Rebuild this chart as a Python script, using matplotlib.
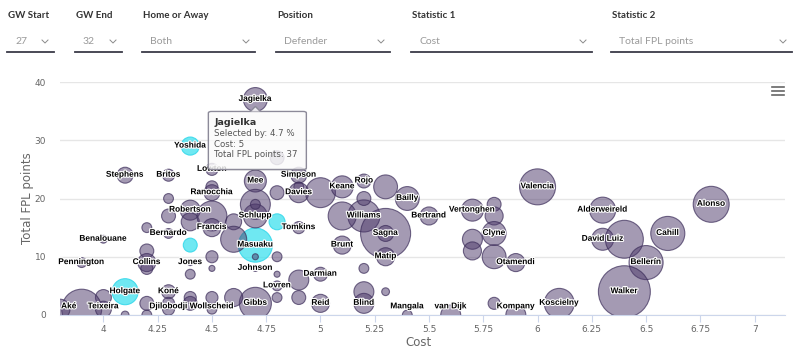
import matplotlib
matplotlib.use("Agg")
import matplotlib.pyplot as plt
import matplotlib.patheffects as pe
from matplotlib.lines import Line2D
from matplotlib.patches import FancyBboxPatch, Polygon, Rectangle

# player data (cost, total points, selected-by %, highlighted)
names = ["Jagielka", "Yoshida", "Stephens", "Britos", "Lowton", "Ranocchia", "", "Mee",
         "Simpson", "", "Davies", "", "Keane", "Rojo", "", "Bailly", "Bertrand", "Vertonghen",
         "", "", "Clyne", "", "", "", "Otamendi", "Valencia", "Alderweireld", "David Luiz", "",
         "Cahill", "Alonso", "Bellerín", "Walker", "Koscielny", "Kompany", "", "van Dijk",
         "Mangala", "Blind", "", "Reid", "Darmian", "", "", "", "Lovren", "", "", "", "Gibbs",
         "Masuaku", "", "Johnson", "", "Tomkins", "", "Schlupp", "", "", "Brunt", "Williams",
         "", "", "Sagna", "Matip", "", "Robertson", "", "", "Francis", "", "", "Bernardo", "",
         "", "", "Benalouane", "", "Jones", "", "", "", "Collins", "", "", "Pennington",
         "Holgate", "Koné", "", "", "", "Teixeira", "", "Djilobodji", "", "Wollscheid",
         "", "", "", "", "", "", "Aké", ""]
cost = [4.7, 4.4, 4.1, 4.3, 4.5, 4.5, 4.5, 4.7,
        4.9, 4.9, 4.9, 5.0, 5.1, 5.2, 5.3, 5.4, 5.5, 5.7,
        5.8, 5.8, 5.8, 5.7, 5.8, 5.7, 5.9, 6.0, 6.3, 6.3, 6.4,
        6.6, 6.8, 6.5, 6.4, 6.1, 5.9, 5.8, 5.6,
        5.4, 5.2, 5.2, 5.0, 5.0, 4.9, 5.2, 5.3, 4.8, 4.8, 4.8, 4.9, 4.7,
        4.7, 4.7, 4.7, 4.8, 4.9, 4.8, 4.7, 4.7, 4.7, 5.1, 5.2,
        5.1, 5.2, 5.3, 5.3, 5.3, 4.4, 4.4, 4.5, 4.5, 4.6, 4.6, 4.3, 4.3,
        4.2, 4.3, 4.0, 4.4, 4.4, 4.4, 4.5, 4.5, 4.2, 4.2, 4.2, 3.9,
        4.1, 4.3, 4.3, 4.0, 3.9, 4.0, 4.1, 4.3, 4.2, 4.5,
        4.4, 4.6, 4.5, 4.4, 4.8, 4.8, 3.8, 4.2]
points = [37, 29, 24, 24, 25, 21, 22, 23,
          24, 22, 21, 21, 22, 23, 22, 20, 17, 18,
          19, 17, 14, 13, 10, 11, 9, 22, 18, 13, 13,
          14, 19, 9, 4, 2, 0, 2, 0,
          0, 2, 4, 2, 7, 6, 8, 4, 5, 7, 3, 3, 2,
          12, 10, 8, 10, 15, 16, 17, 19, 19, 12, 17,
          17, 20, 14, 10, 14, 18, 16, 17, 15, 16, 13, 14, 17,
          15, 20, 13, 12, 9, 7, 10, 8, 9, 11, 8, 9,
          4, 4, 2, 3, 1, 1, 0, 1, 0, 1,
          2, 3, 3, 3, 27, 21, 1, 2]
selected = [4.7, 2.7, 2.1, 1.2, 1.2, 2.1, 1.2, 4.0,
            2.1, 0.8, 3.3, 7.4, 4.0, 1.6, 4.7, 4.7, 2.7, 4.0,
            1.6, 2.7, 4.7, 3.3, 4.7, 2.7, 2.7, 10.7, 5.6, 4.0, 11.9,
            9.6, 10.7, 9.6, 22.3, 7.4, 3.3, 1.2, 3.3,
            0.8, 3.3, 3.3, 2.7, 1.6, 3.3, 0.8, 0.5, 0.8, 0.3, 0.8, 1.6, 8.5,
            9.6, 0.3, 0.3, 0.8, 1.2, 2.1, 4.7, 7.4, 0.8, 2.7, 8.5,
            6.5, 1.6, 20.7, 2.7, 2.1, 3.3, 2.7, 7.4, 2.7, 2.1, 5.6, 0.8, 1.6,
            0.8, 0.8, 0.5, 1.6, 0.3, 0.8, 1.2, 0.3, 2.7, 1.6, 1.2, 0.8,
            5.6, 1.6, 1.2, 2.1, 13.2, 2.1, 0.5, 1.2, 0.8, 0.8,
            1.6, 2.7, 1.2, 1.2, 1.6, 1.6, 3.3, 1.6]
highlight = ["Yoshida", "Masuaku", "Holgate"]
highlight_extra = [55, 77]  # unnamed highlighted bubbles (index)

x_ticks = [4, 4.25, 4.5, 4.75, 5, 5.25, 5.5, 5.75, 6, 6.25, 6.5, 6.75, 7]
x_tick_labels = ["4", "4.25", "4.5", "4.75", "5", "5.25", "5.5", "5.75", "6", "6.25", "6.5", "6.75", "7"]
y_ticks = [0, 10, 20, 30, 40]

controls = ["GW Start", "GW End", "Home or Away", "Position", "Statistic 1", "Statistic 2"]
control_values = ["27", "32", "Both", "Defender", "Cost", "Total FPL points"]

tooltip_title = "Jagielka"
tooltip_lines = ["Selected by: 4.7 %", "Cost: 5", "Total FPL points: 37"]

W, H = 800, 357
fig = plt.figure(figsize=(8, 3.57), dpi=100)


def fx(px):
    return px / W


def fy(py):
    return 1 - py / H


# ---- dropdown controls across the top
ctrl_x = [8, 76, 143, 277, 412, 612]
ctrl_end = [54, 122, 255, 390, 592, 792]
for i in range(len(controls)):
    fig.text(fx(ctrl_x[i]), fy(16), controls[i], fontsize=7, fontweight="bold",
             color="#333333", family="Lato", va="center")
    fig.text(fx(ctrl_x[i] + 7), fy(41), control_values[i], fontsize=7.5,
             color="#9a9a9a", family="Lato", va="center")
    fig.add_artist(Line2D([fx(ctrl_x[i] - 1), fx(ctrl_end[i])], [fy(52), fy(52)],
                          color="#3a3a48", lw=1.3))
    cx = ctrl_end[i] - 9
    fig.add_artist(Line2D([fx(cx - 3), fx(cx), fx(cx + 3)], [fy(40), fy(43), fy(40)],
                          color="#8a8a8a", lw=0.7))

# ---- chart
ax = fig.add_axes([fx(60), fy(315), 725 / W, 233 / H])
ax.set_xlim(3.8, 7.14)
ax.set_ylim(0, 40)

face = []
edge = []
for i, n in enumerate(names):
    if n in highlight or i in highlight_extra:
        face.append((0.22, 0.88, 0.93, 0.72))
        edge.append((0.22, 0.85, 0.92, 0.9))
    else:
        face.append((75 / 255, 55 / 255, 105 / 255, 0.5))
        edge.append((60 / 255, 45 / 255, 90 / 255, 0.7))

sizes = [62.7 * s for s in selected]
ax.scatter(cost, points, s=sizes, c=face, edgecolors=edge, linewidths=0.8, zorder=3)

x0 = ax.get_xlim()[0]
for i, n in enumerate(names):
    if n == "":
        continue
    # keep labels inside the plot area (justify like the original)
    lx, ha = cost[i], "center"
    if cost[i] <= x0 + 0.01:
        lx, ha = x0 + 0.005, "left"
    ax.text(lx, max(points[i], 1.4), n, ha=ha, va="center", fontsize=6,
            fontweight="bold", family="Liberation Sans", color="black", zorder=5,
            path_effects=[pe.withStroke(linewidth=1.6, foreground="white")])

for s in ["top", "right", "left"]:
    ax.spines[s].set_visible(False)
ax.spines["bottom"].set_color("#ccd6eb")
ax.spines["bottom"].set_zorder(6)
ax.set_xticks(x_ticks)
ax.set_xticklabels(x_tick_labels)
ax.set_yticks(y_ticks)
ax.tick_params(axis="x", length=5, color="#ccd6eb", labelsize=6.5, labelcolor="#666666", pad=2)
ax.tick_params(axis="y", length=0, labelsize=6.5, labelcolor="#666666", pad=10)
ax.grid(axis="y", color="#e6e6e6", lw=1)
ax.set_axisbelow(True)

fig.text(fx(418), fy(342), "Cost", fontsize=8.5, color="#666666", ha="center", va="center")
fig.text(fx(28), fy(198), "Total FPL points", fontsize=8.5, color="#666666", ha="center",
         va="center", rotation=90)

# hamburger menu
for yy in [87, 91, 95]:
    fig.add_artist(Line2D([fx(772), fx(784)], [fy(yy), fy(yy)], color="#666666", lw=1.2))

# ---- tooltip on Jagielka
j = names.index(tooltip_title)
fig.canvas.draw()
jx, jy = ax.transData.transform((cost[j], points[j]))
top = jy - 12
left = jx - 47
bw, bh = 98, 58
fig.add_artist(Rectangle((fx(left + 1), (top - bh - 2) / H), bw / W, bh / H,
                         facecolor="black", alpha=0.08, edgecolor="none", zorder=9))
fig.add_artist(FancyBboxPatch((fx(left), (top - bh) / H), bw / W, bh / H,
                              boxstyle="round,pad=0,rounding_size=0.004",
                              facecolor=(1, 1, 1, 0.82), edgecolor="#8c8a99", lw=1, zorder=10))
fig.add_artist(Polygon([(fx(jx - 5), top / H), (fx(jx), (top + 5) / H), (fx(jx + 5), top / H)],
                       closed=False, facecolor=(1, 1, 1, 0.82), edgecolor="#8c8a99", lw=1,
                       zorder=10))
fig.text(fx(left + 6), (top - 11) / H, tooltip_title, fontsize=6.8, fontweight="bold",
         color="#333333", va="center", zorder=11)
for k, line in enumerate(tooltip_lines):
    fig.text(fx(left + 6), (top - 22 - 10.7 * k) / H, line, fontsize=6.2, color="#555555",
             va="center", zorder=11)

fig.savefig("out.png", dpi=100)
